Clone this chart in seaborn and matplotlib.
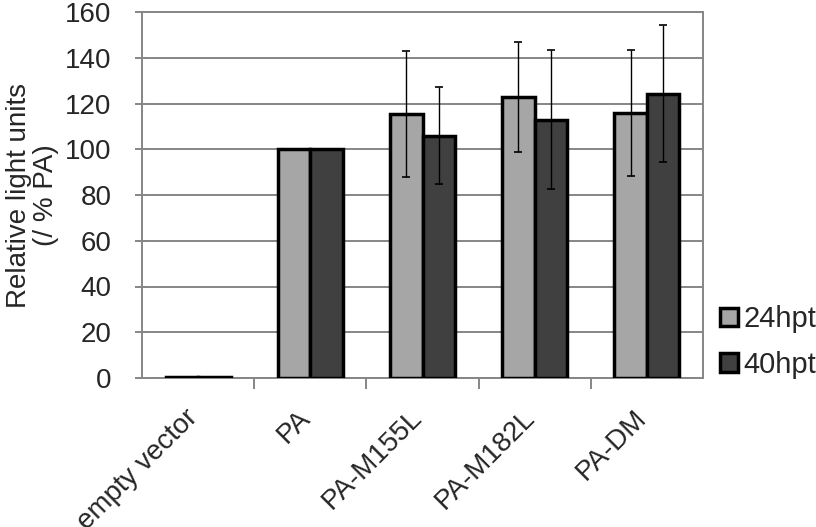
# IMPORTS
import matplotlib
matplotlib.use("Agg")
import matplotlib.pyplot as plt
import seaborn as sns
import pandas as pd
from matplotlib.patches import Patch
from matplotlib.transforms import ScaledTranslation

# DATA
categories = ["empty vector", "PA", "PA-M155L", "PA-M182L", "PA-DM"]
series = ["24hpt", "40hpt"]
values_24 = [0.4, 100, 115.5, 123.0, 116.0]
values_40 = [0.4, 100, 106.0, 113.0, 124.3]
err_24 = [0, 0, 27.5, 24.1, 27.5]
err_40 = [0, 0, 21.4, 30.5, 30.0]
colors = ["#a6a6a6", "#404040"]
yticks = [0, 20, 40, 60, 80, 100, 120, 140, 160]

df = pd.DataFrame({
    "construct": categories * 2,
    "time": [series[0]] * len(categories) + [series[1]] * len(categories),
    "rlu": values_24 + values_40,
})

sns.set_style("white")
plt.rcParams["font.family"] = ["Liberation Sans", "DejaVu Sans"]

fig = plt.figure(figsize=(8.16, 5.27), dpi=100)
ax = fig.add_axes([142 / 816, 1 - 378 / 527, (703 - 142) / 816, (378 - 12) / 527])

sns.barplot(data=df, x="construct", y="rlu", hue="time", order=categories,
            hue_order=series, palette=colors, width=0.58, errorbar=None,
            edgecolor="black", linewidth=2.5, legend=False, ax=ax, zorder=3)

# error bars on top of each bar
for cont, errs in zip(ax.containers, [err_24, err_40]):
    for bar, e in zip(cont, errs):
        if e == 0:
            continue
        x = bar.get_x() + bar.get_width() / 2
        ax.errorbar(x, bar.get_height(), yerr=e, fmt="none", ecolor="black",
                    elinewidth=1, capsize=3, capthick=1.2, zorder=4)

ax.set_ylim(0, 160)
ax.set_yticks(yticks)
ax.set_xlim(-0.5, len(categories) - 0.5)
ax.yaxis.grid(True, color="#868686", linewidth=1.4, zorder=0)
for s in ax.spines.values():
    s.set_color("#868686")
    s.set_linewidth(1.4)

ax.tick_params(axis="y", direction="inout", length=10, width=1.4, color="#868686",
               labelsize=20, pad=17, left=True)
ax.set_xticks([i + 0.5 for i in range(len(categories) - 1)], minor=True)
ax.tick_params(axis="x", which="minor", direction="out", length=8, width=1.4,
               color="#868686", bottom=True)
ax.tick_params(axis="x", which="major", length=0, labelsize=20, pad=26)
ax.set_xticks(range(len(categories)))
ax.set_xticklabels(categories, rotation=45, ha="right", va="center",
                   rotation_mode="anchor")
# nudge rotated labels a little to the left
shift = ScaledTranslation(-4 / 100, 0, fig.dpi_scale_trans)
for lab in ax.get_xticklabels():
    lab.set_transform(lab.get_transform() + shift)

ax.set_xlabel("")
ax.set_ylabel("Relative light units\n(/ % PA)", fontsize=20, labelpad=4,
              linespacing=1.05)

handles = [Patch(facecolor=c, edgecolor="black", linewidth=2.5) for c in colors]
fig.legend(handles, series, loc="center left", bbox_to_anchor=(720 / 816, 1 - 342 / 527),
           frameon=False, fontsize=21, handlelength=0.6, handleheight=0.6,
           handletextpad=0.2, labelspacing=0.6, borderaxespad=0, borderpad=0)

fig.savefig("out.png", dpi=100)
